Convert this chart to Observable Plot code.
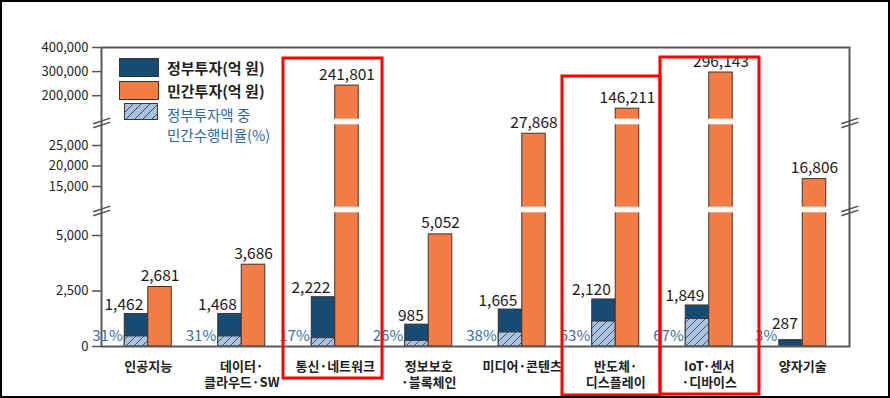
<!DOCTYPE html>
<html><head><meta charset="utf-8">
<script src="https://cdn.jsdelivr.net/npm/d3@7"></script>
<script src="https://cdn.jsdelivr.net/npm/@observablehq/plot@0.6"></script>
<style>
body{margin:0;background:#fff;}
#wrap{position:relative;width:890px;height:398px;overflow:hidden;font-family:"Noto Sans CJK KR","Noto Sans",sans-serif;background:#fff;}
#chart{position:absolute;left:0;top:0;}
#border{position:absolute;left:0;top:0;width:890px;height:398px;box-sizing:border-box;border:2px solid #000;pointer-events:none;}
.sw{position:absolute;box-sizing:border-box;border:1px solid #3a3330;}
.lt{position:absolute;white-space:nowrap;line-height:1;}
</style></head><body>
<div id="wrap">
  <div id="chart"></div>
  <div class="sw" style="left:119px;top:58px;width:40px;height:19px;background:#164b74"></div>
  <div class="lt" style="left:167px;top:60px;font-size:15px;font-weight:bold;color:#231f20">정부투자(억 원)</div>
  <div class="sw" style="left:119px;top:81px;width:40px;height:19px;background:#f47d45"></div>
  <div class="lt" style="left:167px;top:83px;font-size:15px;font-weight:bold;color:#231f20">민간투자(억 원)</div>
  <div class="sw" style="left:124px;top:103px;width:34px;height:17px;background:repeating-linear-gradient(135deg,#a8c2e4 0 5px,#444 5px 6px)"></div>
  <div class="lt" style="left:167px;top:108px;font-size:14.5px;color:#2f67a0">정부투자액 중</div>
  <div class="lt" style="left:167px;top:128px;font-size:14.5px;color:#2f67a0">민간수행비율(%)</div>
  <div id="border"></div>
</div>
<script>
const categories = ["인공지능", "데이터·\n클라우드·SW", "통신·네트워크", "정보보호\n·블록체인", "미디어·콘텐츠", "반도체·\n디스플레이", "IoT·센서\n·디바이스", "양자기술"];
const govInvest = [1462, 1468, 2222, 985, 1665, 2120, 1849, 287];
const privInvest = [2681, 3686, 241801, 5052, 27868, 146211, 296143, 16806];
const privShare = [31, 31, 17, 26, 38, 53, 67, 3];
const highlighted = ["통신·네트워크", "반도체·\n디스플레이", "IoT·센서\n·디바이스"];
const tickValues = [0, 2500, 5000, 15000, 20000, 25000, 200000, 300000, 400000];
const tickLabels = ["0", "2,500", "5,000", "15,000", "20,000", "25,000", "200,000", "300,000", "400,000"];

// broken y axis: value ranges and the share of axis space each one gets
const segments = [
  {v0: 0, v1: 6150, u0: 0, u1: 136.5},
  {v0: 9270, v1: 30730, u0: 136.5, u1: 224.5},
  {v0: 90830, v1: 400000, u0: 224.5, u1: 299}
];
function brk(v) {
  const s = v <= segments[0].v1 ? segments[0] : v <= segments[1].v1 ? segments[1] : segments[2];
  return s.u0 + (v - s.v0) * (s.u1 - s.u0) / (s.v1 - s.v0);
}
const breakU = segments.slice(1).map(s => s.u0);

const rows = categories.map((c, i) => ({cat: c, gov: govInvest[i], priv: privInvest[i], share: privShare[i]}));
const gapRows = [];
segments.slice(1).forEach(s => rows.forEach(r => { if (r.priv >= s.v0) gapRows.push({cat: r.cat, u: s.u0}); }));
const labelByU = new Map(tickValues.map((v, i) => [brk(v), tickLabels[i]]));
const fmt = d3.format(",");

const navy = "#164b74", orange = "#f47d45", outline = "#3f3330";
const half = 46.75, barW = 23.5;

const boxInsets = [
  {insetLeft: -5, insetRight: -0.5, insetTop: 11, insetBottom: -32},
  {insetLeft: -6.5, insetRight: 2, insetTop: 29, insetBottom: -49},
  {insetLeft: -2, insetRight: -3.5, insetTop: 10, insetBottom: -48}
];

const breakMark = (anchor, dy) => Plot.text(breakU, {y: d => d, frameAnchor: anchor, text: () => "—", rotate: -18, dy, fontSize: 20, fill: "#555", lineAnchor: "middle", textAnchor: "middle", fontFamily: "DejaVu Sans"});

const plot = Plot.plot({
  width: 890, height: 398,
  marginLeft: 101, marginRight: 41, marginTop: 47, marginBottom: 52,
  x: {type: "band", domain: categories, padding: 0, round: false, label: null},
  y: {domain: [0, 299], label: null},
  style: {fontFamily: "'Noto Sans CJK KR', 'Noto Sans', sans-serif", background: "transparent", color: "#231f20"},
  marks: [
    Plot.barY(rows, {x: "cat", y1: 0, y2: d => brk(d.gov), fill: navy, stroke: outline, strokeWidth: 1, insetLeft: half - barW, insetRight: half}),
    Plot.barY(rows, {x: "cat", y1: 0, y2: d => brk(d.gov * d.share / 100), fill: "url(#hatch)", stroke: outline, strokeWidth: 1, insetLeft: half - barW, insetRight: half}),
    Plot.barY(rows, {x: "cat", y1: 0, y2: d => brk(d.priv), fill: orange, stroke: outline, strokeWidth: 1, insetLeft: half, insetRight: half - barW}),
    Plot.barY(gapRows, {x: "cat", y1: d => d.u - 2.8, y2: d => d.u + 2.8, fill: "white", insetLeft: half - 1.5, insetRight: half - barW - 1.5}),
    Plot.frame({stroke: "#5a5a5a", strokeWidth: 2}),
    Plot.axisY({ticks: tickValues.map(brk), tickFormat: u => labelByU.get(u), tickSize: 9, tickPadding: 4, fontSize: 13, stroke: "#555", fill: "#231f20", strokeWidth: 1.5, label: null}),
    Plot.axisX({tickSize: 0, tickPadding: 12, fontSize: 13, fontWeight: "bold", lineHeight: 1.3, fill: "#231f20", label: null}),
    breakMark("left", -2), breakMark("left", 2), breakMark("right", -2), breakMark("right", 2),
    Plot.text(rows, {x: "cat", y: d => Math.max(brk(d.gov), 14), text: d => fmt(d.gov), textAnchor: "end", dx: -5, dy: -4, lineAnchor: "bottom", fontSize: 15.5, fill: "#1e1a1a"}),
    Plot.text(rows, {x: "cat", y: d => brk(d.priv), text: d => fmt(d.priv), dx: barW / 2, dy: -6, lineAnchor: "bottom", fontSize: 15.5, fill: "#1e1a1a"}),
    Plot.text(rows, {x: "cat", y: d => 0, text: d => d.share + "%", textAnchor: "end", dx: -barW - 2, dy: -6, lineAnchor: "bottom", fontSize: 15, fill: "#3a6ea8"}),
    ...highlighted.map((c, i) => Plot.cell([c], {x: d => d, fill: "none", stroke: "#ff0000", strokeWidth: 3, ...boxInsets[i]}))
  ]
});
const svg = plot.tagName.toLowerCase() === "svg" ? plot : plot.querySelector("svg");
d3.select(svg).insert("defs", ":first-child").html(
  '<pattern id="hatch" patternUnits="userSpaceOnUse" width="8" height="8">' +
  '<rect width="8" height="8" fill="#a8c2e4"/>' +
  '<path d="M0,8 L8,0 M-2,2 L2,-2 M6,10 L10,6" stroke="#4a4a4a" stroke-width="0.9"/></pattern>');
svg.style.overflow = "visible";
document.getElementById("chart").appendChild(plot);
</script>
</body></html>
